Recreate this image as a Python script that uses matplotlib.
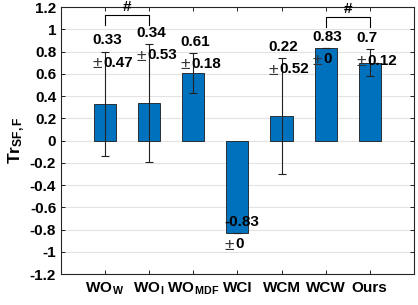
import matplotlib
matplotlib.use("Agg")
import matplotlib.pyplot as plt
import numpy as np

categories = ["WO$_{\\,W}$", "WO$_{\\,I}$", "WO$_{\\,MDF}$", "WCI", "WCM", "WCW", "Ours"]
means = [0.33, 0.34, 0.61, -0.83, 0.22, 0.83, 0.70]
stds = [0.47, 0.53, 0.18, 0.0, 0.52, 0.0, 0.12]
mean_labels = ["0.33", "0.34", "0.61", "-0.83", "0.22", "0.83", "0.7"]
std_labels = ["0.47", "0.53", "0.18", "0", "0.52", "0", "0.12"]
sig_pairs = [(1, 2), (6, 7)]

plt.rcParams['font.family'] = ['Liberation Sans', 'DejaVu Sans']
plt.rcParams['mathtext.fontset'] = 'custom'
plt.rcParams['mathtext.rm'] = 'Liberation Sans:bold'
plt.rcParams['mathtext.it'] = 'Liberation Sans:bold'
plt.rcParams['mathtext.bf'] = 'Liberation Sans:bold'

fig = plt.figure(figsize=(4.18, 3.05), dpi=100)
ax = fig.add_axes([0.146, 0.1016, 0.844, 0.875])

x = np.arange(1, len(categories) + 1)
ax.bar(x, means, width=0.5, color='#0072BD', edgecolor='#1a1a1a', linewidth=0.6, zorder=3)
ax.errorbar(x, means, yerr=stds, fmt='none', ecolor='#222222', elinewidth=0.8,
            capsize=3, capthick=0.8, zorder=4)

for xi, m, s, ml, sl in zip(x, means, stds, mean_labels, std_labels):
    top = m + s
    ax.text(xi - 0.3, top + 0.1, ml, ha='left', va='center', fontsize=11,
            fontweight='bold', zorder=5)
    ax.text(xi - 0.29, top - 0.11, "\u00b1", ha='left', va='center', fontsize=12.5,
            fontweight='normal', color='#333333', zorder=5)
    ax.text(xi - 0.05, top - 0.1, sl, ha='left', va='center', fontsize=11,
            fontweight='bold', zorder=5)

bracket_y = [1.13, 1.11]
for (a, b), by in zip(sig_pairs, bracket_y):
    ax.plot([a, a, b, b], [by - 0.09, by, by, by - 0.09], color='black', lw=0.8, zorder=5)
    ax.text((a + b) / 2, by + 0.01, "#", ha='center', va='bottom', fontsize=11,
            fontweight='bold')

ax.set_xlim(0, 8)
ax.set_ylim(-1.2, 1.2)
ax.set_xticks(x)
ax.set_xticklabels(categories, fontsize=11, fontweight='bold')
yt = np.round(np.arange(-1.2, 1.21, 0.2), 1)
yt[np.abs(yt) < 1e-9] = 0.0
ax.set_yticks(yt)
ax.set_yticklabels([("%g" % (v + 0.0)).replace("-0", "0") if abs(v) < 1e-9 else ("%g" % v) for v in yt],
                   fontsize=11, fontweight='bold')
ax.tick_params(direction='in', top=True, right=True, length=3, width=0.6)
ax.tick_params(axis='x', pad=5)
ax.yaxis.grid(True, color='#e3e3e3', lw=0.8, zorder=0)
ax.set_axisbelow(True)
for sp in ax.spines.values():
    sp.set_linewidth(0.8)
    sp.set_color('#262626')
ax.set_ylabel("Tr$_{SF,F}$", fontsize=12.5, fontweight='bold', labelpad=2)

fig.savefig("out.png", dpi=100)
